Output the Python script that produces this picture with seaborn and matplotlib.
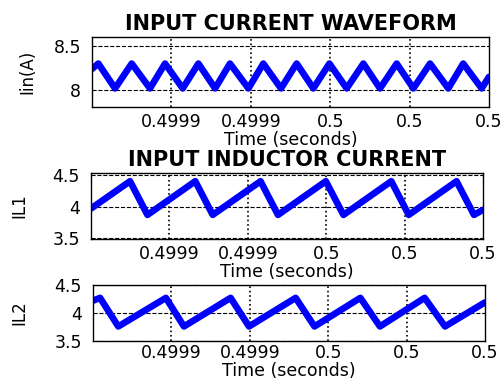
import matplotlib
matplotlib.use("Agg")
import matplotlib.pyplot as plt
import seaborn as sns

# ── data ──────────────────────────────────────────────────────
# input current: vertices of the triangular ripple
t_in = [0.4998400, 0.4998432, 0.4998516, 0.4998600, 0.4998692, 0.4998768,
        0.4998857, 0.4998936, 0.4999020, 0.4999095, 0.4999188, 0.4999263,
        0.4999352, 0.4999431, 0.4999515, 0.4999596, 0.4999683, 0.4999767,
        0.4999851, 0.4999935, 0.5000019, 0.5000103, 0.5000195, 0.5000270,
        0.5000363, 0.5000400]
i_in = [8.24, 8.30, 8.02, 8.30, 8.02, 8.30,
        8.02, 8.30, 8.02, 8.30, 8.02, 8.30,
        8.02, 8.30, 8.02, 8.30, 8.02, 8.30,
        8.02, 8.30, 8.02, 8.30, 8.02, 8.30,
        8.02, 8.15]

# inductor 1 current
t_l1 = [0.4998400, 0.4998599, 0.4998688, 0.4998932, 0.4999021, 0.4999265,
        0.4999354, 0.4999598, 0.4999688, 0.4999932, 0.5000021, 0.5000265,
        0.5000354, 0.5000400]
i_l1 = [3.97, 4.40, 3.87, 4.40, 3.87, 4.40,
        3.87, 4.40, 3.87, 4.40, 3.87, 4.40,
        3.87, 3.95]

# inductor 2 current
t_l2 = [0.4998400, 0.4998436, 0.4998529, 0.4998772, 0.4998864, 0.4999102,
        0.4999196, 0.4999434, 0.4999530, 0.4999764, 0.4999864, 0.5000092,
        0.5000196, 0.5000400]
i_l2 = [4.22, 4.27, 3.76, 4.27, 3.76, 4.27,
        3.76, 4.27, 3.76, 4.27, 3.76, 4.27,
        3.76, 4.19]

x_ticks = [0.49988, 0.49992, 0.49996, 0.50000, 0.50004]
x_ticklabels = ['0.4999', '0.4999', '0.5', '0.5', '0.5']
x_range = (0.49984, 0.50004)

# ── style ─────────────────────────────────────────────────────
sns.set_style('white')
plt.rcParams['font.family'] = ['DejaVu Sans']
plt.rcParams['text.color'] = 'black'
plt.rcParams['axes.labelcolor'] = 'black'

fig = plt.figure(figsize=(5.04, 3.81), dpi=100)

# (rect, t, y, ylim, yticks, yticklabels, ylabel, ylabel x, title, tick pad)
panels = [
    ([92 / 504, 1 - 107 / 381, 397 / 504, 70 / 381], t_in, i_in,
     (7.81, 8.60), [8, 8.5], ['8', '8.5'], 'Iin(A)', -0.141,
     'INPUT CURRENT WAVEFORM', 4),
    ([91 / 504, 1 - 239 / 381, 392 / 504, 66 / 381], t_l1, i_l1,
     (3.49, 4.53), [3.5, 4, 4.5], ['3.5', '4', '4.5'], 'IL1', -0.16,
     'INPUT INDUCTOR CURRENT', 4),
    ([93 / 504, 1 - 341 / 381, 392 / 504, 56 / 381], t_l2, i_l2,
     (3.5, 4.5), [3.5, 4, 4.5], ['3.5', '4', '4.5'], 'IL2', -0.165,
     None, 2.5),
]

for rect, t, y, ylim, yt, ytl, ylab, ylab_x, title, xpad in panels:
    ax = fig.add_axes(rect)
    sns.lineplot(x=t, y=y, ax=ax, color='#0000ff', linewidth=4.8,
                 solid_joinstyle='round', solid_capstyle='round')
    ax.set_xlim(*x_range)
    ax.set_ylim(*ylim)
    ax.set_xticks(x_ticks)
    ax.set_xticklabels(x_ticklabels)
    ax.set_yticks(yt)
    ax.set_yticklabels(ytl)
    ax.tick_params(direction='in', length=3, width=0.8, labelsize=12.5,
                   colors='black')
    ax.tick_params(axis='x', pad=xpad)
    ax.tick_params(axis='y', pad=8)
    for x in x_ticks[:-1]:
        ax.axvline(x, color='black', linestyle=':', linewidth=1.2, zorder=0)
    for v in yt:
        ax.axhline(v, color='black', linestyle='--', linewidth=0.8, zorder=0)
    for s in ax.spines.values():
        s.set_color('black')
        s.set_linewidth(1.0)
    ax.set_xlabel('Time (seconds)', fontsize=12.5, labelpad=0)
    ax.set_ylabel(ylab, fontsize=12)
    ax.yaxis.set_label_coords(ylab_x, 0.5)
    if title:
        ax.set_title(title, fontsize=15, fontweight='bold', pad=5)

fig.savefig('out.png', dpi=100, facecolor='white')
